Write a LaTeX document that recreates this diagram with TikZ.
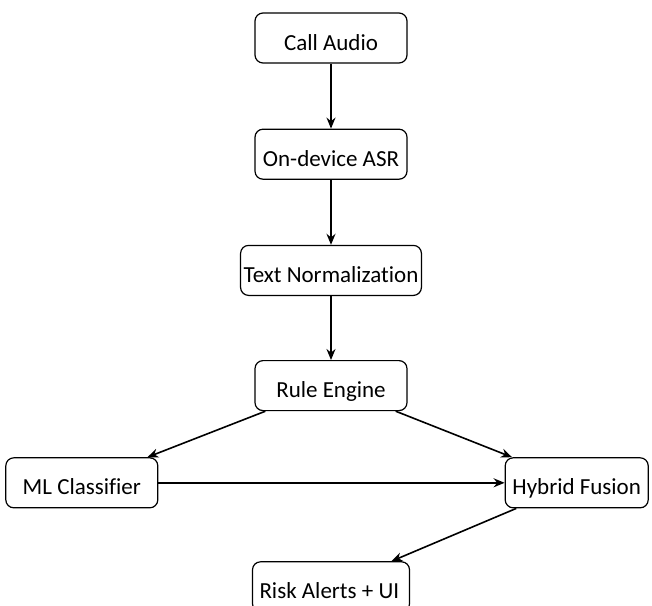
\documentclass[tikz,border=0pt]{standalone}
\usepackage{fontspec}
\setmainfont{Carlito}[Ligatures=NoCommon]
\usepackage{tikz}
\usetikzlibrary{positioning, arrows.meta, calc}

\begin{document}
\begin{tikzpicture}[font=\fontsize{23}{27}\selectfont, node distance=65pt,
    stagebox/.style={draw, rounded corners=8pt, line width=1.2pt, minimum width=152pt,
      minimum height=50pt, inner xsep=3pt, text height=24pt, text depth=0pt},
    flow/.style={-{Stealth[length=11pt, width=9pt]}, line width=1.6pt}]
  \useasboundingbox (0,0) rectangle (652pt,-605pt);
  \node[stagebox] (audio) at (331pt,-38pt) {Call Audio};
  \node[stagebox, below=of audio] (asr) {On-device ASR};
  \node[stagebox, below=of asr] (norm) {Text Normalization};
  \node[stagebox, below=64pt of norm] (rule) {Rule Engine};
  \node[stagebox, below left=46pt and 96pt of rule] (ml) {ML Classifier};
  \node[stagebox, minimum width=143pt, below right=46pt and 97pt of rule] (fusion) {Hybrid Fusion};
  \node[stagebox, minimum width=157pt, inner xsep=7pt, below=150pt of rule] (risk)
    {\makebox[143pt][l]{Risk Alerts + UI}};
  \draw[flow] (audio) -- (asr);
  \draw[flow] (asr) -- (norm);
  \draw[flow] (norm) -- (rule);
  \draw[flow] (rule) -- (ml);
  \draw[flow] (rule) -- (fusion);
  \draw[flow] (ml) -- (fusion);
  \draw[flow] (fusion) -- (risk);
\end{tikzpicture}
\end{document}
